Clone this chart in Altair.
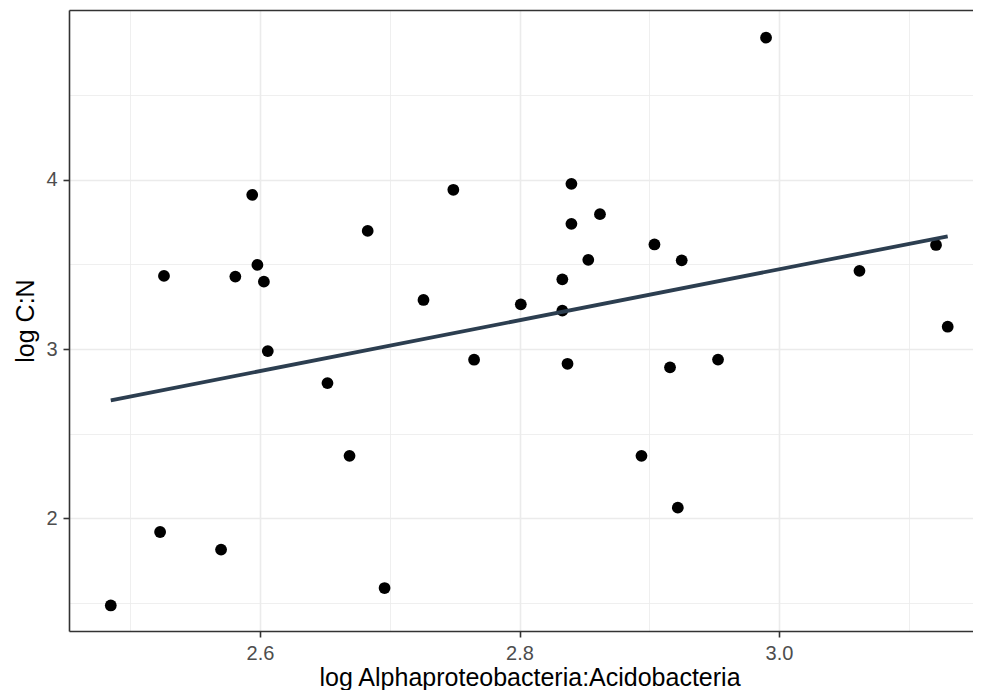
import altair as alt
import pandas as pd

# values
x_vals = [2.485, 2.526, 2.523, 2.570, 2.581, 2.594, 2.598, 2.603, 2.606, 2.652,
          2.669, 2.683, 2.696, 2.726, 2.749, 2.765, 2.801, 2.833, 2.833, 2.837,
          2.840, 2.840, 2.862, 2.853, 2.904, 2.916, 2.925, 2.922, 2.894, 2.953,
          2.990, 3.062, 3.121, 3.130]
y_vals = [1.485, 3.432, 1.919, 1.815, 3.428, 3.911, 3.497, 3.398, 2.988, 2.799,
          2.369, 3.698, 1.588, 3.290, 3.941, 2.937, 3.264, 3.412, 3.227, 2.913,
          3.740, 3.976, 3.797, 3.527, 3.618, 2.892, 3.524, 2.063, 2.369, 2.938,
          4.840, 3.462, 3.615, 3.132]

x_major = [2.6, 2.8, 3.0]
x_minor = [2.5, 2.7, 2.9, 3.1]
y_major = [2, 3, 4]
y_minor = [1.5, 2.5, 3.5, 4.5]
x_title = "log Alphaproteobacteria:Acidobacteria"
y_title = "log C:N"

df = pd.DataFrame({"x": x_vals, "y": y_vals})

W, H = 904, 621
xs = alt.Scale(domain=[2.4528, 3.1495], nice=False, zero=False)
ys = alt.Scale(domain=[1.3341, 5.0033], nice=False, zero=False)

FONT = "Liberation Sans"
GRID = "#EBEBEB"
DARK = "#333333"
LAB = "#4D4D4D"

minor = alt.Chart(df).mark_point(opacity=0).encode(
    x=alt.X("x:Q", scale=xs, axis=alt.Axis(orient="bottom", values=x_minor, grid=True,
                                          gridColor=GRID, gridWidth=0.8, labels=False,
                                          ticks=False, domain=False, title=None)),
    y=alt.Y("y:Q", scale=ys, axis=alt.Axis(orient="left", values=y_minor, grid=True,
                                          gridColor=GRID, gridWidth=0.8, labels=False,
                                          ticks=False, domain=False, title=None)),
)

top_border = alt.Chart(df).mark_point(opacity=0).encode(
    x=alt.X("x:Q", scale=xs, axis=alt.Axis(orient="top", values=x_major, grid=False,
                                          labels=False, ticks=False, domain=True,
                                          domainColor=DARK, domainWidth=1.6, title=None)),
    y=alt.Y("y:Q", scale=ys, axis=None),
)

points = alt.Chart(df).mark_circle(size=139, color="black", opacity=1).encode(
    x=alt.X("x:Q", scale=xs, axis=alt.Axis(
        orient="bottom", values=x_major, format=".1f", grid=True, gridColor=GRID,
        gridWidth=1.6, labelFont=FONT, labelFontSize=20, labelColor=LAB,
        labelPadding=6.5, tickColor=DARK, tickSize=6, tickWidth=1.6,
        domainColor=DARK, domainWidth=1.6,
        title=x_title, titleFont=FONT, titleFontSize=25, titleFontWeight="normal",
        titleColor="black", titleBaseline="alphabetic", titleY=54, titleX=460.5)),
    y=alt.Y("y:Q", scale=ys, axis=alt.Axis(
        orient="left", values=y_major, format="d", grid=True, gridColor=GRID,
        gridWidth=1.6, labelFont=FONT, labelFontSize=20, labelColor=LAB, labelPadding=6,
        tickColor=DARK, tickSize=6, tickWidth=1.6,
        domainColor=DARK, domainWidth=1.6,
        title=y_title, titleFont=FONT, titleFontSize=25, titleFontWeight="normal",
        titleColor="black", titleBaseline="alphabetic", titleX=-36)),
)

line = alt.Chart(df).transform_regression("x", "y").mark_line(
    color="#2C3E50", strokeWidth=3.8
).encode(
    x=alt.X("x:Q", scale=xs, axis=None),
    y=alt.Y("y:Q", scale=ys, axis=None),
)

chart = alt.layer(minor, top_border, points, line).resolve_axis(
    x="independent", y="independent"
).properties(
    width=W, height=H,
    padding={"left": 61, "top": 2, "right": 0, "bottom": 59},
    autosize=alt.AutoSizeParams(type="none"),
    background="white",
).configure_view(stroke=None)

chart.save("out.html", embed_options={"renderer": "svg", "actions": False})
